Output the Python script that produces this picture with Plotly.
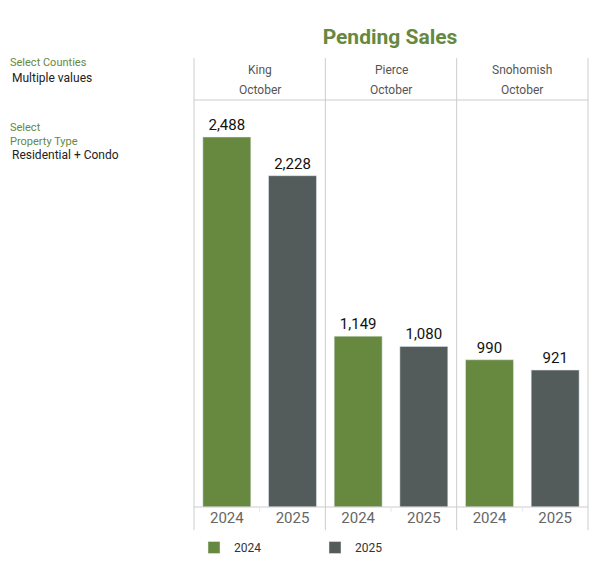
import plotly.graph_objects as go
from plotly.subplots import make_subplots

counties = ["King", "Pierce", "Snohomish"]
month = "October"
years = ["2024", "2025"]
sales_2024 = [2488, 1149, 990]
sales_2025 = [2228, 1080, 921]

GREEN = "#66883F"
GREY = "#535C5A"
LINE = "#CCCCCC"

# page body has an 8px margin, so the figure is a bit smaller than the window
W, H = 591, 556
OFF = 8

fig = make_subplots(rows=1, cols=3, shared_yaxes=True, horizontal_spacing=0)

for i, county in enumerate(counties):
    for year, vals, color in [(years[0], sales_2024, GREEN), (years[1], sales_2025, GREY)]:
        fig.add_trace(
            go.Bar(
                x=[year], y=[vals[i]], name=year, marker_color=color,
                text=[vals[i]], texttemplate="%{y:,}", textposition="outside",
                textfont=dict(size=15, color="#111111"), cliponaxis=False,
                showlegend=(i == 0), legendgroup=year,
            ),
            row=1, col=i + 1,
        )
    fig.add_annotation(text=county, x=(i + 0.5) / 3, y=1.097, xref="paper", yref="paper",
                       xanchor="center", showarrow=False, font=dict(size=12, color="#555555"))
    fig.add_annotation(text=month, x=(i + 0.5) / 3, y=1.047, xref="paper", yref="paper",
                       xanchor="center", showarrow=False, font=dict(size=12, color="#555555"))

for c in range(1, 4):
    fig.update_xaxes(row=1, col=c, type="category", categoryorder="array",
                     categoryarray=years, showgrid=False, showline=False,
                     tickfont=dict(size=15, color="#666666"), ticks="", zeroline=False,
                     automargin=False)
fig.update_yaxes(range=[0, 2737], visible=False, showgrid=False)

shapes = []
for k in range(4):
    shapes.append(dict(type="line", xref="paper", yref="paper", x0=k / 3, x1=k / 3,
                       y0=-0.057, y1=1.103, line=dict(color=LINE, width=1)))
for yy in [0, 1]:
    shapes.append(dict(type="line", xref="paper", yref="paper", x0=0, x1=1,
                       y0=yy, y1=yy, line=dict(color=LINE, width=1)))
for k in range(3):
    shapes.append(dict(type="line", xref="paper", yref="paper", x0=(k + 0.5) / 3, x1=(k + 0.5) / 3,
                       y0=-0.012, y1=0, line=dict(color="#E6E6E6", width=1)))

left_notes = [
    ("Select Counties", 62, GREEN, 8, 11),
    ("Multiple values", 78, "#222222", 10, 12),
    ("Select", 127, GREEN, 8, 11),
    ("Property Type", 141, GREEN, 8, 11),
    ("Residential + Condo", 155, "#222222", 10, 12),
]
for txt, ypx, col, xpx, size in left_notes:
    fig.add_annotation(text=txt, x=(xpx - 194) / 394, y=(507 - ypx) / 407, xref="paper", yref="paper",
                       xanchor="left", yanchor="middle", showarrow=False,
                       font=dict(size=size, color=col))

fig.update_layout(
    width=W, height=H,
    margin=dict(l=194 - OFF, r=W - (588 - OFF), t=100 - OFF, b=H - (507 - OFF), autoexpand=False),
    paper_bgcolor="white", plot_bgcolor="white",
    font=dict(family="Roboto, Arial, sans-serif"),
    bargap=0.27,
    shapes=shapes,
    title=dict(text="<b>Pending Sales</b>", x=(390 - OFF) / W, xanchor="center", y=1 - (37 - OFF) / H,
               yanchor="middle", font=dict(size=21, color=GREEN)),
    legend=dict(orientation="h", x=0.0, xanchor="left", yref="container", y=1 - (544 - OFF - 11) / H,
                yanchor="top", entrywidth=76, font=dict(size=12, color="#333333")),
)

fig.write_html("out.html")
